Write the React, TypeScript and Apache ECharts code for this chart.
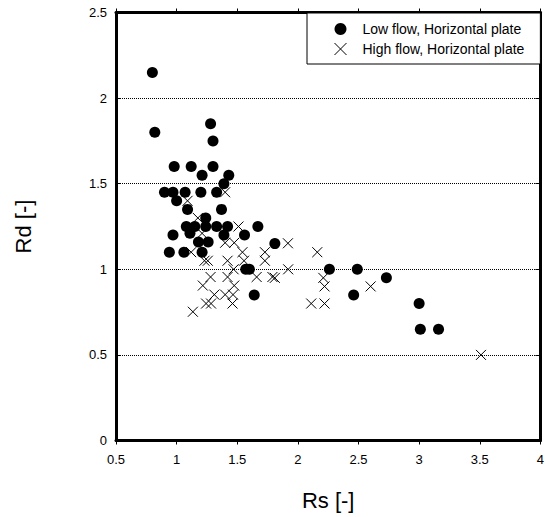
import React, { useEffect, useRef } from "react";
import * as echarts from "echarts";

const lowFlowRs = [0.8, 0.82, 1.28, 1.3, 0.98, 1.12, 1.3, 1.21, 1.43, 1.39, 0.9, 0.97, 1.07, 1.2, 1.33, 1.0, 1.09, 1.37, 1.24, 1.08, 1.15, 1.24, 1.33, 1.42, 1.67, 0.97, 1.11, 1.39, 1.56, 1.18, 1.26, 0.94, 1.06, 1.21, 1.81, 1.57, 1.6, 1.64, 2.26, 2.49, 2.73, 2.46, 3.0, 3.01, 3.16];
const lowFlowRd = [2.15, 1.8, 1.85, 1.75, 1.6, 1.6, 1.6, 1.55, 1.55, 1.5, 1.45, 1.45, 1.45, 1.45, 1.45, 1.4, 1.35, 1.35, 1.3, 1.25, 1.25, 1.25, 1.25, 1.25, 1.25, 1.2, 1.21, 1.2, 1.2, 1.16, 1.16, 1.1, 1.1, 1.1, 1.15, 1.0, 1.0, 0.85, 1.0, 1.0, 0.95, 0.85, 0.8, 0.65, 0.65];

const highFlowRs = [1.4, 1.09, 1.175, 1.51, 1.21, 1.4, 1.475, 1.12, 1.543, 1.728, 1.918, 2.16, 1.23, 1.257, 1.42, 1.556, 1.728, 1.47, 1.92, 1.28, 1.42, 1.66, 1.79, 1.81, 2.21, 2.22, 1.216, 1.475, 1.311, 1.4, 1.465, 1.243, 1.284, 1.461, 2.11, 2.22, 2.6, 3.51, 1.134];
const highFlowRd = [1.45, 1.4, 1.3, 1.25, 1.21, 1.155, 1.155, 1.1, 1.1, 1.1, 1.152, 1.1, 1.05, 1.05, 1.05, 1.05, 1.05, 1.0, 1.0, 0.955, 0.955, 0.955, 0.955, 0.95, 0.95, 0.9, 0.905, 0.905, 0.852, 0.852, 0.852, 0.8, 0.8, 0.8, 0.8, 0.8, 0.9, 0.5, 0.752];

const seriesNames = ["Low flow, Horizontal plate", "High flow, Horizontal plate"];
const xTitle = "Rs [-]";
const yTitle = "Rd [-]";

const FONT = "Liberation Sans, Arial, sans-serif";
const CROSS = "path://M0 0L10 10M10 0L0 10";

export default function App() {
  const ref = useRef<HTMLDivElement>(null);
  useEffect(() => {
    document.body.style.margin = "0";
    const chart = echarts.init(ref.current!, null, { renderer: "svg" });
    const lowData = lowFlowRs.map((x, i) => [x, lowFlowRd[i]]);
    const highData = highFlowRs.map((x, i) => [x, highFlowRd[i]]);
    const axisLine = { show: true, onZero: false, lineStyle: { color: "#000", width: 3 } };
    chart.setOption({
      animation: false,
      backgroundColor: "#fff",
      textStyle: { fontFamily: FONT },
      grid: { left: 116, right: 4, top: 12.5, bottom: 76.5, containLabel: false },
      legend: {
        orient: "vertical",
        left: 307,
        top: 13,
        padding: [9, 16, 8, 27],
        itemGap: 6,
        itemWidth: 12,
        itemHeight: 12,
        borderColor: "#000",
        borderWidth: 1,
        backgroundColor: "#fff",
        textStyle: { fontFamily: FONT, fontSize: 14, color: "#000", padding: [0, 0, 0, 11] },
        data: [
          { name: seriesNames[0], icon: "circle", itemStyle: { color: "#000" } },
          { name: seriesNames[1], icon: CROSS, itemStyle: { color: "transparent", borderColor: "#000", borderWidth: 1 } },
        ],
      },
      xAxis: [
        {
          type: "value",
          position: "bottom",
          min: 0.5,
          max: 4,
          interval: 0.5,
          name: xTitle,
          nameLocation: "middle",
          nameGap: 49,
          nameTextStyle: { fontFamily: FONT, fontSize: 22, color: "#000" },
          axisLine,
          axisTick: { show: true, inside: false, length: 4, lineStyle: { color: "#000", width: 1 } },
          axisLabel: { show: true, margin: 12, fontFamily: FONT, fontSize: 13, color: "#000" },
          splitLine: { show: false },
        },
        {
          type: "value",
          position: "top",
          min: 0.5,
          max: 4,
          interval: 0.5,
          axisLine,
          axisTick: { show: true, inside: false, length: 4, lineStyle: { color: "#000", width: 1 } },
          axisLabel: { show: false },
          splitLine: { show: false },
        },
      ],
      yAxis: [
        {
          type: "value",
          position: "left",
          min: 0,
          max: 2.5,
          interval: 0.5,
          name: yTitle,
          nameLocation: "middle",
          nameGap: 82,
          nameTextStyle: { fontFamily: FONT, fontSize: 22, color: "#000" },
          axisLine,
          axisTick: { show: true, inside: true, length: 5, lineStyle: { color: "#000", width: 1 } },
          axisLabel: { show: true, margin: 9, fontFamily: FONT, fontSize: 13, color: "#000" },
          splitLine: { show: true, lineStyle: { type: "dotted", color: "#000", width: 1 } },
        },
        {
          type: "value",
          position: "right",
          min: 0,
          max: 2.5,
          interval: 0.5,
          axisLine,
          axisTick: { show: true, inside: true, length: 5, lineStyle: { color: "#000", width: 1 } },
          axisLabel: { show: false },
          splitLine: { show: false },
        },
      ],
      series: [
        {
          name: seriesNames[0],
          type: "scatter",
          xAxisIndex: 0,
          yAxisIndex: 0,
          symbol: "circle",
          symbolSize: 11,
          itemStyle: { color: "#000", opacity: 1 },
          data: lowData,
          z: 3,
        },
        {
          name: seriesNames[1],
          type: "scatter",
          xAxisIndex: 0,
          yAxisIndex: 0,
          symbol: CROSS,
          symbolSize: 10,
          itemStyle: { color: "transparent", borderColor: "#000", borderWidth: 1, opacity: 1 },
          data: highData,
          z: 4,
        },
      ],
    });
    return () => chart.dispose();
  }, []);
  return <div ref={ref} style={{ width: 547, height: 517, position: "absolute", left: 0, top: 0 }} />;
}
